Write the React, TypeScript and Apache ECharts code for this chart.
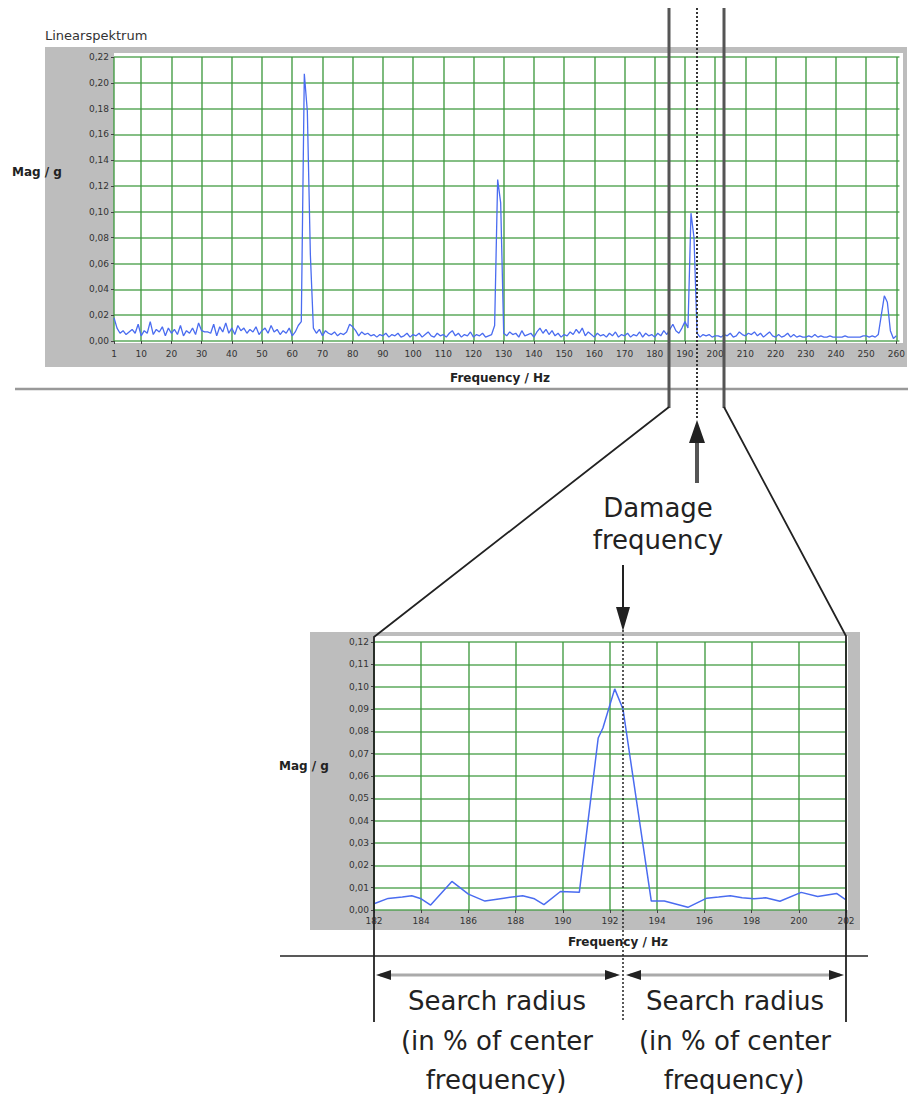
import React, { useEffect, useRef } from "react";
import * as echarts from "echarts";

// Overview spectrum (1 Hz resolution, starting at 1 Hz)
const spectrumMag = [
  0.018, 0.010, 0.006, 0.008, 0.005, 0.007, 0.009, 0.006, 0.013, 0.004,
  0.008, 0.006, 0.015, 0.005, 0.009, 0.007, 0.011, 0.004, 0.010, 0.006,
  0.009, 0.005, 0.012, 0.004, 0.008, 0.006, 0.010, 0.005, 0.014, 0.008,
  0.007, 0.007, 0.006, 0.013, 0.004, 0.011, 0.007, 0.014, 0.006, 0.010,
  0.005, 0.012, 0.008, 0.010, 0.006, 0.009, 0.007, 0.011, 0.005, 0.008,
  0.010, 0.006, 0.012, 0.007, 0.009, 0.005, 0.008, 0.006, 0.010, 0.004,
  0.007, 0.012, 0.015, 0.207, 0.178, 0.067, 0.010, 0.006, 0.009, 0.004,
  0.008, 0.006, 0.005, 0.007, 0.004, 0.006, 0.005, 0.007, 0.013, 0.011,
  0.008, 0.004, 0.007, 0.005, 0.006, 0.004, 0.005, 0.003, 0.005, 0.004,
  0.006, 0.003, 0.005, 0.004, 0.006, 0.003, 0.004, 0.006, 0.003, 0.005,
  0.004, 0.006, 0.003, 0.005, 0.007, 0.004, 0.003, 0.006, 0.004, 0.005,
  0.003, 0.006, 0.008, 0.004, 0.006, 0.003, 0.005, 0.004, 0.007, 0.003,
  0.005, 0.004, 0.006, 0.003, 0.004, 0.005, 0.012, 0.125, 0.107, 0.006,
  0.004, 0.007, 0.005, 0.006, 0.003, 0.008, 0.004, 0.005, 0.006, 0.003,
  0.007, 0.010, 0.006, 0.009, 0.005, 0.008, 0.004, 0.006, 0.003, 0.005,
  0.004, 0.007, 0.005, 0.009, 0.006, 0.010, 0.004, 0.007, 0.005, 0.003,
  0.006, 0.004, 0.005, 0.003, 0.006, 0.004, 0.007, 0.003, 0.005, 0.004,
  0.006, 0.003, 0.005, 0.004, 0.007, 0.003, 0.006, 0.004, 0.005, 0.003,
  0.006, 0.004, 0.008, 0.005, 0.009, 0.013, 0.008, 0.006, 0.010, 0.015,
  0.010, 0.099, 0.080, 0.006, 0.003, 0.005, 0.004, 0.005, 0.003, 0.004,
  0.004, 0.003, 0.005, 0.004, 0.006, 0.003, 0.004, 0.007, 0.005, 0.004,
  0.006, 0.005, 0.007, 0.004, 0.006, 0.003, 0.005, 0.007, 0.004, 0.003,
  0.005, 0.003, 0.004, 0.006, 0.003, 0.005, 0.003, 0.004, 0.003, 0.003,
  0.004, 0.003, 0.005, 0.003, 0.004, 0.003, 0.003, 0.004, 0.003, 0.003,
  0.003, 0.003, 0.004, 0.003, 0.003, 0.003, 0.003, 0.003, 0.004, 0.004,
  0.003, 0.004, 0.003, 0.005, 0.020, 0.035, 0.030, 0.008, 0.002, 0.004,
];
const spectrumTicks = [
  1, 10, 20, 30, 40, 50, 60, 70, 80, 90, 100, 110, 120, 130, 140, 150, 160,
  170, 180, 190, 200, 210, 220, 230, 240, 250, 260,
];

// Zoomed spectrum around the damage frequency
const zoomFreq = [
  182.0, 182.6, 183.2, 183.6, 184.0, 184.4, 185.3, 186.0, 186.7, 187.5,
  188.3, 188.8, 189.2, 189.9, 190.7, 191.5, 191.7, 192.2, 192.55, 193.75,
  194.3, 195.3, 196.1, 196.6, 197.1, 197.6, 198.1, 198.6, 199.2, 200.1,
  200.8, 201.6, 202.0,
];
const zoomMag = [
  0.0028, 0.0052, 0.0058, 0.0064, 0.0050, 0.0022, 0.0128, 0.0071, 0.0040, 0.0053,
  0.0064, 0.0050, 0.0024, 0.0083, 0.0079, 0.0770, 0.0815, 0.0990, 0.0900, 0.0040,
  0.0040, 0.0012, 0.0053, 0.0058, 0.0064, 0.0055, 0.0050, 0.0055, 0.0039, 0.0079,
  0.0060, 0.0074, 0.0045,
];

const fmt = (v: number) => v.toFixed(2).replace(".", ",");

const GREEN = "#3f9a3f";
const BLUE = "#4a6cf0";
const FRAME = "#bdbdbd";
const FONT = "DejaVu Sans";

export default function App() {
  const ref = useRef<HTMLDivElement>(null);
  useEffect(() => {
    if (!ref.current) return;
    const chart = echarts.init(ref.current, null, { renderer: "svg" });

    const axisLabelStyle = { fontSize: 9, color: "#333", fontFamily: FONT };
    const overlay = "#555";
    const bigText = { fontSize: 26, fontFamily: FONT, fill: "#222", align: "center", verticalAlign: "middle" };
    const boldText = { fontSize: 12, fontWeight: "bold", fontFamily: FONT, fill: "#222" };

    const option: any = {
      animation: false,
      backgroundColor: "#fff",
      grid: [
        { left: 114, top: 57, width: 788, height: 284, show: false },
        { left: 374, top: 642, width: 472, height: 268, show: false },
      ],
      xAxis: [
        {
          gridIndex: 0,
          type: "value",
          min: 1,
          max: 261,
          axisLine: { show: false },
          axisTick: {
            show: true,
            customValues: spectrumTicks,
            length: 3,
            lineStyle: { color: "#444" },
          },
          axisLabel: { ...axisLabelStyle, customValues: spectrumTicks, margin: 8 },
          splitLine: { show: true, lineStyle: { color: GREEN, width: 1.6, opacity: 0.85 } },
        },
        {
          gridIndex: 1,
          type: "value",
          min: 182,
          max: 202,
          interval: 2,
          axisLine: { show: false },
          axisTick: { show: true, length: 3, lineStyle: { color: "#444" } },
          axisLabel: { ...axisLabelStyle, margin: 6 },
          splitLine: { show: true, lineStyle: { color: GREEN, width: 1.6, opacity: 0.85 } },
        },
      ],
      yAxis: [
        {
          gridIndex: 0,
          type: "value",
          min: 0,
          max: 0.22,
          interval: 0.02,
          axisLine: { show: false },
          axisTick: { show: true, length: 3, lineStyle: { color: "#444" } },
          axisLabel: { ...axisLabelStyle, formatter: fmt, margin: 5 },
          splitLine: { show: true, lineStyle: { color: GREEN, width: 1.6, opacity: 0.85 } },
        },
        {
          gridIndex: 1,
          type: "value",
          min: 0,
          max: 0.12,
          interval: 0.01,
          axisLine: { show: false },
          axisTick: { show: true, length: 3, lineStyle: { color: "#444" } },
          axisLabel: { ...axisLabelStyle, formatter: fmt, margin: 5 },
          splitLine: { show: true, lineStyle: { color: GREEN, width: 1.6, opacity: 0.85 } },
        },
      ],
      series: [
        {
          type: "line",
          xAxisIndex: 0,
          yAxisIndex: 0,
          data: spectrumMag.map((m, i) => [i + 1, m]),
          showSymbol: false,
          lineStyle: { color: BLUE, width: 1.3 },
          z: 5,
        },
        {
          type: "line",
          xAxisIndex: 1,
          yAxisIndex: 1,
          data: zoomFreq.map((f, i) => [f, zoomMag[i]]),
          showSymbol: false,
          lineStyle: { color: BLUE, width: 1.5 },
          z: 5,
        },
      ],
      graphic: [
        // frames (behind)
        { type: "rect", z: -20, shape: { x: 45, y: 47, width: 862, height: 320 }, style: { fill: FRAME } },
        { type: "rect", z: -19, shape: { x: 114, y: 53, width: 789, height: 290 }, style: { fill: "#fff" } },
        { type: "rect", z: -20, shape: { x: 310, y: 632, width: 550, height: 298 }, style: { fill: FRAME } },
        { type: "rect", z: -19, shape: { x: 374, y: 636, width: 474, height: 274 }, style: { fill: "#fff" } },
        // titles
        { type: "text", z: 10, x: 45, y: 29, style: { text: "Linearspektrum", fontSize: 13, fontFamily: FONT, fill: "#333" } },
        { type: "text", z: 10, x: 12, y: 166, style: { ...boldText, text: "Mag / g" } },
        { type: "text", z: 10, x: 500, y: 372, style: { ...boldText, text: "Frequency / Hz", align: "center" } },
        { type: "text", z: 10, x: 279, y: 760, style: { ...boldText, text: "Mag / g" } },
        { type: "text", z: 10, x: 618, y: 936, style: { ...boldText, text: "Frequency / Hz", align: "center" } },
        // separators
        { type: "line", z: 10, shape: { x1: 15, y1: 389, x2: 908, y2: 389 }, style: { stroke: "#999", lineWidth: 2.5 } },
        { type: "line", z: 10, shape: { x1: 280, y1: 956, x2: 868, y2: 956 }, style: { stroke: "#222", lineWidth: 1.5 } },
        // zoom window lines
        { type: "line", z: 50, shape: { x1: 669, y1: 8, x2: 669, y2: 408 }, style: { stroke: overlay, lineWidth: 3 } },
        { type: "line", z: 50, shape: { x1: 724, y1: 8, x2: 724, y2: 408 }, style: { stroke: overlay, lineWidth: 3 } },
        { type: "polyline", z: 50, shape: { points: [[669, 407], [374, 637], [374, 1022]] }, style: { stroke: "#222", lineWidth: 1.8, fill: "none" } },
        { type: "polyline", z: 50, shape: { points: [[724, 407], [846, 636], [846, 1022]] }, style: { stroke: "#222", lineWidth: 1.8, fill: "none" } },
        // damage frequency dotted lines
        { type: "line", z: 51, shape: { x1: 697, y1: 8, x2: 697, y2: 418 }, style: { stroke: "#333", lineWidth: 2, lineDash: [2, 2] } },
        { type: "line", z: 51, shape: { x1: 623, y1: 630, x2: 623, y2: 1022 }, style: { stroke: "#222", lineWidth: 1.5, lineDash: [2, 2] } },
        // up arrow
        { type: "line", z: 50, shape: { x1: 697, y1: 440, x2: 697, y2: 483 }, style: { stroke: overlay, lineWidth: 4 } },
        { type: "polygon", z: 50, shape: { points: [[697, 420], [689, 443], [705, 443]] }, style: { fill: "#222" } },
        // down arrow
        { type: "line", z: 50, shape: { x1: 623, y1: 565, x2: 623, y2: 610 }, style: { stroke: "#222", lineWidth: 2 } },
        { type: "polygon", z: 50, shape: { points: [[623, 631], [616, 607], [630, 607]] }, style: { fill: "#222" } },
        // damage frequency label
        { type: "text", z: 50, x: 658, y: 508, style: { ...bigText, text: "Damage" } },
        { type: "text", z: 50, x: 658, y: 540, style: { ...bigText, text: "frequency" } },
        // search radius dimension arrows
        { type: "line", z: 50, shape: { x1: 380, y1: 975, x2: 616, y2: 975 }, style: { stroke: "#aaa", lineWidth: 3 } },
        { type: "polygon", z: 50, shape: { points: [[376, 975], [391, 970], [391, 980]] }, style: { fill: "#222" } },
        { type: "polygon", z: 50, shape: { points: [[620, 975], [605, 970], [605, 980]] }, style: { fill: "#222" } },
        { type: "line", z: 50, shape: { x1: 630, y1: 975, x2: 840, y2: 975 }, style: { stroke: "#aaa", lineWidth: 3 } },
        { type: "polygon", z: 50, shape: { points: [[626, 975], [641, 970], [641, 980]] }, style: { fill: "#222" } },
        { type: "polygon", z: 50, shape: { points: [[844, 975], [829, 970], [829, 980]] }, style: { fill: "#222" } },
        // search radius texts
        { type: "text", z: 50, x: 497, y: 1001, style: { ...bigText, text: "Search radius" } },
        { type: "text", z: 50, x: 497, y: 1041, style: { ...bigText, text: "(in % of center" } },
        { type: "text", z: 50, x: 496, y: 1080, style: { ...bigText, text: "frequency)" } },
        { type: "text", z: 50, x: 735, y: 1001, style: { ...bigText, text: "Search radius" } },
        { type: "text", z: 50, x: 735, y: 1041, style: { ...bigText, text: "(in % of center" } },
        { type: "text", z: 50, x: 734, y: 1080, style: { ...bigText, text: "frequency)" } },
      ],
    };

    chart.setOption(option);
    return () => chart.dispose();
  }, []);

  return (
    <div
      ref={ref}
      style={{ position: "absolute", left: 0, top: 0, width: 908, height: 1094 }}
    />
  );
}
